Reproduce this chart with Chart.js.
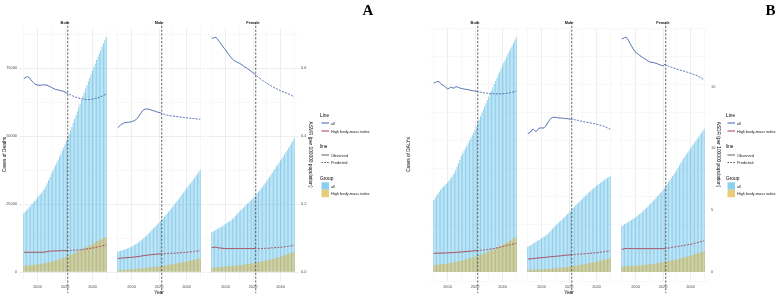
<!DOCTYPE html>
<html>
<head>
<meta charset="utf-8">
<title>Deaths and DALYs attributable to high body-mass index</title>
<script src="https://cdn.jsdelivr.net/npm/chart.js@4.4.1/dist/chart.umd.min.js"></script>
<style>
  html, body { margin: 0; padding: 0; background: #fff; }
  #fig { position: relative; width: 777px; height: 296px; overflow: hidden; }
  #fig canvas { position: absolute; }
  #overlay { position: absolute; left: 0; top: 0; z-index: 2; }
</style>
</head>
<body>
<div id="fig"><svg id="overlay" width="777" height="296"></svg></div>
<script>
const YEARS = [1990,1991,1992,1993,1994,1995,1996,1997,1998,1999,
  2000,2001,2002,2003,2004,2005,2006,2007,2008,2009,
  2010,2011,2012,2013,2014,2015,2016,2017,2018,2019,
  2020,2021,2022,2023,2024,2025,2026,2027,2028,2029,
  2030,2031,2032,2033,2034,2035,2036,2037,2038,2039,
  2040,2041,2042,2043,2044,2045,2046,2047,2048,2049,2050];
const YEAR_TICKS = [2000, 2020, 2040];
const SPLIT_YEAR = 2021;   // observed up to here, predicted after
const VLINE_YEAR = 2022;
const SEXES = ["Both", "Male", "Female"];

const LINE_KEYS = ["all", "High body-mass index"];
const TYPE_KEYS = ["Observed", "Predicted"];
const GROUP_KEYS = ["all", "High body-mass index"];

// ---- panel A: deaths (thousands) and ASMR ----
const DEATHS_ALL_BOTH = [21.6,22.2,22.7,23.3,23.8,24.4,25.0,25.6,26.2,26.8,
  27.4,28.0,28.6,29.2,29.9,30.6,31.6,32.7,33.8,34.9,
  36.0,37.1,38.1,39.2,40.2,41.3,42.4,43.5,44.6,45.7,
  46.8,48.1,49.4,50.8,52.1,53.5,54.9,56.3,57.7,59.1,
  60.5,61.9,63.3,64.7,66.1,67.5,68.8,70.2,71.5,72.9,
  74.2,75.5,76.7,78.0,79.2,80.5,81.7,82.9,84.1,85.3,86.5];
const DEATHS_HBMI_BOTH = [2.3,2.34,2.38,2.43,2.48,2.53,2.58,2.64,2.70,2.75,
  2.8,2.88,2.97,3.07,3.17,3.27,3.38,3.49,3.60,3.70,
  3.8,3.94,4.08,4.23,4.38,4.54,4.70,4.87,5.04,5.22,
  5.4,5.62,5.84,6.06,6.29,6.52,6.75,6.98,7.22,7.46,
  7.7,7.95,8.20,8.45,8.71,8.97,9.23,9.49,9.76,10.03,
  10.3,10.57,10.84,11.11,11.38,11.65,11.92,12.19,12.46,12.73,13.0];
const ASMR_ALL_BOTH = [0.570,0.572,0.575,0.575,0.572,0.567,0.562,0.558,0.554,0.552,
  0.551,0.550,0.550,0.551,0.551,0.551,0.551,0.550,0.548,0.546,
  0.544,0.542,0.540,0.538,0.537,0.536,0.535,0.534,0.533,0.532,
  0.530,0.528,0.526,0.524,0.522,0.520,0.518,0.516,0.515,0.513,
  0.512,0.511,0.510,0.509,0.509,0.508,0.508,0.508,0.508,0.509,
  0.509,0.510,0.511,0.512,0.513,0.515,0.516,0.518,0.520,0.522,0.524];
const ASMR_HBMI_BOTH = [0.058,0.058,0.058,0.058,0.058,0.058,0.058,0.058,0.058,0.058,
  0.058,0.058,0.058,0.058,0.058,0.059,0.059,0.060,0.061,0.061,
  0.062,0.062,0.062,0.062,0.062,0.062,0.063,0.063,0.063,0.063,
  0.063,0.063,0.063,0.063,0.063,0.064,0.064,0.064,0.064,0.065,
  0.065,0.065,0.066,0.066,0.067,0.067,0.068,0.069,0.069,0.070,
  0.071,0.071,0.072,0.073,0.074,0.075,0.076,0.077,0.078,0.079,0.080];

const DEATHS_ALL_MALE = [7.5,7.65,7.8,7.95,8.1,8.3,8.5,8.7,8.9,9.1,
  9.3,9.6,9.9,10.2,10.5,10.9,11.3,11.7,12.1,12.5,
  13.0,13.5,14.0,14.5,15.0,15.6,16.1,16.6,17.1,17.6,
  18.2,18.7,19.3,19.8,20.4,21.0,21.6,22.2,22.8,23.4,
  24.0,24.6,25.3,26.0,26.6,27.3,28.0,28.7,29.3,30.0,
  30.7,31.4,32.1,32.7,33.4,34.1,34.8,35.5,36.2,36.9,37.6];
const DEATHS_HBMI_MALE = [0.70,0.72,0.75,0.78,0.81,0.84,0.87,0.90,0.94,0.97,
  1.00,1.04,1.09,1.14,1.19,1.24,1.29,1.34,1.40,1.45,
  1.50,1.56,1.62,1.68,1.74,1.80,1.86,1.92,1.98,2.04,
  2.10,2.18,2.26,2.34,2.42,2.50,2.58,2.66,2.74,2.82,
  2.90,3.00,3.10,3.20,3.30,3.40,3.50,3.60,3.70,3.80,
  3.90,4.01,4.12,4.23,4.34,4.45,4.56,4.67,4.78,4.89,5.00];
const ASMR_ALL_MALE = [0.425,0.429,0.433,0.436,0.438,0.440,0.440,0.441,0.441,0.442,
  0.443,0.444,0.446,0.448,0.452,0.457,0.463,0.469,0.475,0.478,
  0.480,0.480,0.480,0.479,0.478,0.476,0.475,0.474,0.472,0.471,
  0.470,0.469,0.467,0.466,0.464,0.463,0.462,0.461,0.460,0.460,
  0.459,0.459,0.458,0.458,0.457,0.457,0.456,0.456,0.455,0.455,
  0.454,0.454,0.453,0.453,0.452,0.452,0.452,0.451,0.451,0.450,0.450];
const ASMR_HBMI_MALE = [0.040,0.040,0.041,0.041,0.041,0.042,0.042,0.042,0.043,0.043,
  0.043,0.044,0.044,0.045,0.045,0.046,0.046,0.047,0.048,0.048,
  0.049,0.049,0.050,0.050,0.051,0.051,0.052,0.052,0.052,0.053,
  0.053,0.053,0.053,0.054,0.054,0.054,0.054,0.055,0.055,0.055,
  0.055,0.055,0.056,0.056,0.056,0.056,0.057,0.057,0.057,0.058,
  0.058,0.058,0.059,0.059,0.060,0.060,0.061,0.061,0.062,0.062,0.063];

const DEATHS_ALL_FEMALE = [14.6,14.9,15.2,15.5,15.8,16.1,16.4,16.7,17.0,17.4,
  17.7,18.0,18.4,18.7,19.1,19.5,20.0,20.6,21.1,21.7,
  22.2,22.7,23.2,23.7,24.2,24.7,25.2,25.6,26.1,26.6,
  27.1,27.7,28.3,28.9,29.6,30.2,30.8,31.5,32.1,32.8,
  33.5,34.2,35.0,35.7,36.5,37.3,38.0,38.8,39.5,40.3,
  41.0,41.8,42.5,43.3,44.1,44.9,45.7,46.6,47.4,48.3,49.2];
const DEATHS_HBMI_FEMALE = [1.60,1.64,1.68,1.72,1.76,1.80,1.84,1.88,1.92,1.96,
  2.00,2.05,2.10,2.15,2.20,2.25,2.30,2.35,2.40,2.45,
  2.50,2.56,2.63,2.70,2.77,2.84,2.91,2.98,3.05,3.12,
  3.20,3.29,3.38,3.47,3.57,3.67,3.77,3.87,3.98,4.09,
  4.20,4.33,4.46,4.59,4.73,4.87,5.01,5.15,5.30,5.45,
  5.60,5.78,5.96,6.14,6.33,6.52,6.71,6.90,7.10,7.30,7.50];
const ASMR_ALL_FEMALE = [0.688,0.689,0.691,0.691,0.687,0.681,0.676,0.670,0.665,0.659,
  0.654,0.648,0.643,0.637,0.632,0.627,0.624,0.621,0.619,0.617,
  0.615,0.613,0.610,0.607,0.604,0.602,0.599,0.596,0.593,0.590,
  0.587,0.584,0.580,0.577,0.573,0.570,0.567,0.564,0.561,0.559,
  0.556,0.554,0.551,0.549,0.546,0.544,0.542,0.540,0.538,0.536,
  0.534,0.532,0.531,0.529,0.528,0.526,0.524,0.522,0.520,0.518,0.516];
const ASMR_HBMI_FEMALE = [0.072,0.072,0.073,0.073,0.072,0.071,0.071,0.070,0.070,0.069,
  0.069,0.069,0.069,0.069,0.069,0.069,0.069,0.069,0.069,0.069,
  0.069,0.069,0.069,0.069,0.069,0.069,0.069,0.069,0.069,0.069,
  0.069,0.069,0.069,0.069,0.069,0.069,0.069,0.069,0.069,0.070,
  0.070,0.070,0.070,0.071,0.071,0.071,0.072,0.072,0.072,0.073,
  0.073,0.073,0.074,0.074,0.075,0.075,0.076,0.077,0.077,0.078,0.079];

// ---- panel B: DALYs (thousands) and ASDR ----
const DALYS_ALL_BOTH = [643,662,681,700,718,735,748,761,774,787,
  800,816,832,849,866,885,912,942,972,1003,
  1035,1058,1081,1104,1127,1150,1174,1198,1222,1246,
  1270,1300,1330,1360,1390,1420,1449,1478,1507,1536,
  1565,1593,1621,1649,1677,1705,1733,1761,1789,1817,
  1845,1870,1896,1921,1947,1972,1997,2021,2046,2070,2095];
const DALYS_HBMI_BOTH = [62,63,65,66,68,69,71,72,74,75,
  77,79,81,84,86,89,91,94,96,99,
  101,104,108,111,115,119,122,126,130,133,
  137,141,145,150,154,159,163,167,172,176,
  181,186,192,197,203,209,215,222,228,235,
  241,248,255,262,269,277,284,292,299,307,315];
const ASDR_ALL_BOTH = [15.30,15.33,15.38,15.42,15.38,15.25,15.15,15.10,15.02,14.90,
  14.82,14.85,14.95,14.93,14.88,14.90,14.98,14.98,14.93,14.88,
  14.85,14.83,14.80,14.78,14.77,14.75,14.72,14.70,14.68,14.65,
  14.64,14.62,14.59,14.57,14.55,14.53,14.51,14.49,14.48,14.46,
  14.45,14.44,14.43,14.42,14.42,14.41,14.41,14.41,14.41,14.42,
  14.42,14.43,14.44,14.45,14.47,14.49,14.51,14.54,14.57,14.60,14.64];
const ASDR_HBMI_BOTH = [1.51,1.51,1.52,1.52,1.52,1.53,1.53,1.53,1.54,1.54,
  1.54,1.55,1.56,1.56,1.57,1.58,1.59,1.60,1.60,1.61,
  1.62,1.63,1.64,1.65,1.66,1.67,1.68,1.69,1.70,1.71,
  1.72,1.73,1.74,1.75,1.76,1.77,1.78,1.79,1.80,1.81,
  1.83,1.85,1.87,1.89,1.91,1.93,1.95,1.98,2.00,2.03,
  2.05,2.08,2.10,2.13,2.16,2.18,2.21,2.24,2.27,2.29,2.32];

const DALYS_ALL_MALE = [226,233,240,247,255,262,270,278,285,293,
  301,310,318,327,336,345,359,373,386,400,
  414,425,436,448,459,470,482,494,506,518,
  530,544,557,571,584,598,610,622,634,646,
  658,670,682,693,705,717,728,739,749,760,
  771,780,789,797,806,815,823,832,840,849,857];
const DALYS_HBMI_MALE = [18,18.5,19,19.6,20.2,20.8,21.4,22,22.6,23.3,
  24,24.8,25.6,26.4,27.3,28.2,29.1,30.1,31.0,32.0,
  33,34.4,35.8,37.2,38.7,40.2,41.7,43.2,44.8,46.4,
  48,49.9,51.8,53.8,55.8,57.8,59.8,61.8,63.9,66.0,
  68,70.3,72.6,75,77.4,79.8,82.2,84.6,87.1,89.5,
  92,95.2,98.4,101.6,104.8,108.1,111.4,114.7,118,121.4,125];
const ASDR_ALL_MALE = [11.22,11.25,11.32,11.50,11.55,11.45,11.35,11.48,11.62,11.65,
  11.66,11.64,11.68,11.80,11.98,12.15,12.32,12.45,12.50,12.52,
  12.51,12.50,12.47,12.46,12.46,12.45,12.44,12.42,12.41,12.40,
  12.38,12.37,12.35,12.34,12.32,12.30,12.28,12.25,12.22,12.20,
  12.17,12.15,12.13,12.11,12.09,12.07,12.05,12.03,12.01,11.99,
  11.96,11.93,11.90,11.87,11.84,11.80,11.76,11.71,11.66,11.61,11.55];
const ASDR_HBMI_MALE = [1.05,1.06,1.07,1.08,1.09,1.10,1.11,1.13,1.14,1.15,
  1.16,1.17,1.18,1.19,1.20,1.21,1.23,1.24,1.25,1.26,
  1.27,1.28,1.29,1.30,1.31,1.32,1.34,1.35,1.36,1.37,
  1.38,1.39,1.40,1.41,1.41,1.42,1.43,1.44,1.45,1.45,
  1.46,1.47,1.48,1.49,1.50,1.51,1.52,1.53,1.54,1.55,
  1.56,1.57,1.59,1.60,1.62,1.63,1.65,1.67,1.68,1.70,1.72];

const DALYS_ALL_FEMALE = [411,418,426,434,441,449,457,465,473,480,
  488,498,508,518,528,538,550,562,574,586,
  598,611,624,638,651,664,678,691,705,718,
  732,750,768,785,803,821,839,857,875,893,
  911,932,953,973,994,1015,1033,1051,1068,1086,
  1104,1121,1138,1156,1173,1190,1208,1226,1244,1262,1280];
const DALYS_HBMI_FEMALE = [48,49,50,51,51,52,53,54,55,56,
  57,58,59,60,61,62,63,64,66,67,
  68,70,71,73,75,77,79,81,83,85,
  87,89,92,94,97,100,102,105,108,110,
  113,116,119,123,126,129,132,136,139,143,
  146,150,154,158,162,166,170,174,178,183,187];
const ASDR_ALL_FEMALE = [18.85,18.90,18.96,18.99,18.90,18.71,18.50,18.30,18.10,17.93,
  17.77,17.70,17.61,17.53,17.45,17.37,17.30,17.22,17.15,17.08,
  17.01,16.98,16.96,16.94,16.91,16.88,16.84,16.79,16.75,16.71,
  16.67,16.78,16.74,16.70,16.65,16.61,16.57,16.53,16.50,16.46,
  16.42,16.39,16.36,16.32,16.29,16.26,16.22,16.19,16.15,16.12,
  16.08,16.04,16.00,15.96,15.92,15.88,15.82,15.76,15.69,15.61,15.53];
const ASDR_HBMI_FEMALE = [1.83,1.85,1.88,1.91,1.91,1.90,1.90,1.89,1.89,1.89,
  1.89,1.89,1.89,1.89,1.89,1.89,1.89,1.89,1.89,1.89,
  1.89,1.89,1.89,1.89,1.89,1.89,1.89,1.89,1.89,1.89,
  1.89,1.89,1.91,1.92,1.94,1.96,1.98,2.00,2.02,2.03,
  2.05,2.07,2.09,2.10,2.12,2.14,2.16,2.18,2.20,2.22,
  2.24,2.27,2.29,2.32,2.35,2.38,2.41,2.44,2.47,2.50,2.53];

// axis ticks (values in the units of the arrays) and their labels
const DEATH_TICKS = [0, 25, 50, 75];
const DEATH_TICK_LABELS = ["0", "25000", "50000", "75000"];
const ASMR_TICKS = [0, 0.2, 0.4, 0.6];
const ASMR_TICK_LABELS = ["0.0", "0.2", "0.4", "0.6"];
const DALY_TICKS = [0, 500, 1000, 1500, 2000];
const DALY_TICK_LABELS = ["0", "500000", "1000000", "1500000", "2000000"];
const ASDR_TICKS = [0, 5, 10, 15];
const ASDR_TICK_LABELS = ["0", "5", "10", "15"];

// ---- styling ----
const FONT = '"Liberation Sans", Arial, Helvetica, sans-serif';
const SKY = "rgba(110,195,232,0.8)";
const GOLD = "rgba(222,175,50,0.65)";
const BLUE = "#3d5fa8";
const RED = "#a63c4c";
const GRID = "#e6e6e6";
const GRID_MINOR = "#f1f1f1";
const TICK_COLOR = "#4d4d4d";
const SMALL = 3.9, BIG = 4.8;

const FIG = document.getElementById("fig");
const TOP = 20, H = 276, PLOT_W = 92;

const PANELS = [
  { plotLeft: [19, 113, 207], leftW: 19, rightW: 15, leftTitlePad: 2.1, rightTitlePad: 0.4,
    yTitle: "Cases of Deaths", y2Title: "ASMR (per 100000 population)",
    yMin: -3.3, yMax: 89.8, yStep: 12.5, yTicks: DEATH_TICKS, yLabels: DEATH_TICK_LABELS,
    y2Min: -0.0265, y2Max: 0.7187, y2Step: 0.2, y2Ticks: ASMR_TICKS, y2Labels: ASMR_TICK_LABELS,
    series: [
      { all: DEATHS_ALL_BOTH, hbmi: DEATHS_HBMI_BOTH, rateAll: ASMR_ALL_BOTH, rateHbmi: ASMR_HBMI_BOTH },
      { all: DEATHS_ALL_MALE, hbmi: DEATHS_HBMI_MALE, rateAll: ASMR_ALL_MALE, rateHbmi: ASMR_HBMI_MALE },
      { all: DEATHS_ALL_FEMALE, hbmi: DEATHS_HBMI_FEMALE, rateAll: ASMR_ALL_FEMALE, rateHbmi: ASMR_HBMI_FEMALE }
    ] },
  { plotLeft: [429, 523, 617], leftW: 24, rightW: 12, leftTitlePad: 0.4, rightTitlePad: 0,
    yTitle: "Cases of DALYs", y2Title: "ASDR (per 100000 population)",
    yMin: -80, yMax: 2179, yStep: 250, yTicks: DALY_TICKS, yLabels: DALY_TICK_LABELS,
    y2Min: -0.728, y2Max: 19.74, y2Step: 5, y2Ticks: ASDR_TICKS, y2Labels: ASDR_TICK_LABELS,
    series: [
      { all: DALYS_ALL_BOTH, hbmi: DALYS_HBMI_BOTH, rateAll: ASDR_ALL_BOTH, rateHbmi: ASDR_HBMI_BOTH },
      { all: DALYS_ALL_MALE, hbmi: DALYS_HBMI_MALE, rateAll: ASDR_ALL_MALE, rateHbmi: ASDR_HBMI_MALE },
      { all: DALYS_ALL_FEMALE, hbmi: DALYS_HBMI_FEMALE, rateAll: ASDR_ALL_FEMALE, rateHbmi: ASDR_HBMI_FEMALE }
    ] }
];

function near(list, v) { return list.some(t => Math.abs(t - v) < 1e-6); }
function tickLabel(list, labels, v) {
  const k = list.findIndex(t => Math.abs(t - v) < 1e-6);
  return k >= 0 ? labels[k] : "";
}

// dashed vertical line separating observed and predicted years
const splitLine = {
  id: "splitLine",
  afterDraw(chart) {
    const x = chart.scales.x.getPixelForValue(VLINE_YEAR);
    const c = chart.ctx;
    c.save();
    c.strokeStyle = "#3a3a3a";
    c.lineWidth = 0.8;
    c.setLineDash([2.2, 1.6]);
    c.beginPath();
    c.moveTo(x, 2);
    c.lineTo(x, chart.height - 3);
    c.stroke();
    c.restore();
  }
};

function facet(p, i) {
  const first = i === 0, last = i === 2;
  const leftW = first ? p.leftW : 0, rightW = last ? p.rightW : 0;
  const x0 = p.plotLeft[i] - leftW, w = leftW + PLOT_W + rightW;
  const cv = document.createElement("canvas");
  cv.width = w; cv.height = H;
  Object.assign(cv.style, { left: x0 + "px", top: TOP + "px", width: w + "px", height: H + "px" });
  FIG.appendChild(cv);

  const s = p.series[i];
  const pts = vals => YEARS.map((yr, k) => ({ x: yr, y: vals[k] }));
  const dash = ctx => (ctx.p0.parsed.x >= SPLIT_YEAR ? [2, 1.3] : undefined);
  const tickFont = { family: FONT, size: SMALL };
  const titleFont = { family: FONT, size: BIG };

  new Chart(cv, {
    type: "bar",
    data: {
      datasets: [
        { type: "line", data: pts(s.rateAll), yAxisID: "y2", borderColor: BLUE, borderWidth: 0.9,
          pointRadius: 0, segment: { borderDash: dash }, order: 0 },
        { type: "line", data: pts(s.rateHbmi), yAxisID: "y2", borderColor: RED, borderWidth: 0.9,
          pointRadius: 0, segment: { borderDash: dash }, order: 1 },
        { data: pts(s.hbmi), yAxisID: "y", backgroundColor: GOLD, grouped: false,
          barPercentage: 0.72, categoryPercentage: 1, order: 2 },
        { data: pts(s.all), yAxisID: "y", backgroundColor: SKY, grouped: false,
          barPercentage: 0.72, categoryPercentage: 1, order: 3 }
      ]
    },
    options: {
      responsive: false,
      animation: false,
      events: [],
      layout: { autoPadding: false, padding: 0 },
      plugins: {
        legend: { display: false },
        tooltip: { enabled: false },
        title: { display: true, text: SEXES[i], fullSize: false, font: tickFont, color: "#1a1a1a",
                 padding: { top: 1, bottom: 2.32 } }
      },
      scales: {
        x: {
          type: "linear", min: 1986.5, max: 2053.5, offset: false,
          afterFit: sc => { sc.height = 15; },
          border: { display: false },
          grid: { offset: false, drawTicks: false,
                  color: ctx => (ctx.tick && near(YEAR_TICKS, ctx.tick.value) ? GRID : GRID_MINOR),
                  lineWidth: ctx => (ctx.tick && near(YEAR_TICKS, ctx.tick.value) ? 0.7 : 0.5) },
          ticks: { stepSize: 10, includeBounds: false, autoSkip: false, maxRotation: 0, padding: 3.5,
                   font: tickFont, color: TICK_COLOR,
                   callback: v => (near(YEAR_TICKS, v) ? String(v) : "") },
          title: { display: i === 1, text: "Year", font: titleFont, color: "#000",
                   padding: { top: 0, bottom: 0.6 } }
        },
        y: {
          type: "linear", position: "left", min: p.yMin, max: p.yMax,
          afterFit: sc => { sc.width = leftW; },
          border: { display: false },
          grid: { drawTicks: false,
                  color: ctx => (ctx.tick && near(p.yTicks, ctx.tick.value) ? GRID : GRID_MINOR),
                  lineWidth: ctx => (ctx.tick && near(p.yTicks, ctx.tick.value) ? 0.7 : 0.5) },
          ticks: { display: first, stepSize: p.yStep, includeBounds: false, autoSkip: false, padding: 2,
                   font: tickFont, color: TICK_COLOR,
                   callback: v => tickLabel(p.yTicks, p.yLabels, v) },
          title: { display: first, text: p.yTitle, font: titleFont, color: "#000",
                   padding: { top: p.leftTitlePad, bottom: 0 } }
        },
        y2: {
          type: "linear", position: "right", display: last, min: p.y2Min, max: p.y2Max,
          afterFit: sc => { sc.width = rightW; },
          border: { display: false },
          grid: { display: false, drawTicks: false },
          ticks: { stepSize: p.y2Step, includeBounds: false, autoSkip: false, padding: 2,
                   font: tickFont, color: TICK_COLOR,
                   callback: v => tickLabel(p.y2Ticks, p.y2Labels, v) },
          title: { display: true, text: p.y2Title, font: titleFont, color: "#000",
                   padding: { top: p.rightTitlePad, bottom: 0 } }
        }
      }
    },
    plugins: [splitLine]
  });
}

PANELS.forEach(p => [0, 1, 2].forEach(i => facet(p, i)));

// ---- legends and panel letters (svg text) ----
function esc(t) { return t.replace(/&/g, "&amp;").replace(/</g, "&lt;"); }
function txt(x, y, t, size, extra) {
  return `<text x="${x}" y="${y}" font-size="${size}" dominant-baseline="central" ${extra || ""}>${esc(t)}</text>`;
}
function legend(bx) {
  const f = `font-family='${FONT}'`;
  let s = "";
  s += txt(bx, 115, "Line", BIG, `${f} fill="#000"`);
  [BLUE, RED].forEach((col, k) => {
    const y = 123 + k * 8;
    s += `<line x1="${bx + 1.5}" x2="${bx + 9}" y1="${y}" y2="${y}" stroke="${col}" stroke-width="1"/>`;
    s += txt(bx + 11, y, LINE_KEYS[k], SMALL, `${f} fill="#1a1a1a"`);
  });
  s += txt(bx, 146, "line", BIG, `${f} fill="#000"`);
  TYPE_KEYS.forEach((label, k) => {
    const y = 155 + k * 7.5;
    const d = k === 1 ? ` stroke-dasharray="1.6 1.2"` : "";
    s += `<line x1="${bx + 1.5}" x2="${bx + 9}" y1="${y}" y2="${y}" stroke="#333" stroke-width="0.8"${d}/>`;
    s += txt(bx + 11, y, label, SMALL, `${f} fill="#1a1a1a"`);
  });
  s += txt(bx, 178, "Group", BIG, `${f} fill="#000"`);
  [SKY, GOLD].forEach((col, k) => {
    const y = 182.3 + k * 7.5;
    s += `<rect x="${bx + 1.5}" y="${y}" width="7.5" height="7.4" fill="${col}"/>`;
    s += txt(bx + 11, y + 3.7, GROUP_KEYS[k], SMALL, `${f} fill="#1a1a1a"`);
  });
  return s;
}
const serif = `font-family='"Liberation Serif", "Times New Roman", serif' font-weight="bold" text-anchor="middle"`;
document.getElementById("overlay").innerHTML =
  legend(320) + legend(726) +
  txt(368, 9.5, "A", 15, serif) + txt(770.5, 9.5, "B", 15, serif);
</script>
</body>
</html>
